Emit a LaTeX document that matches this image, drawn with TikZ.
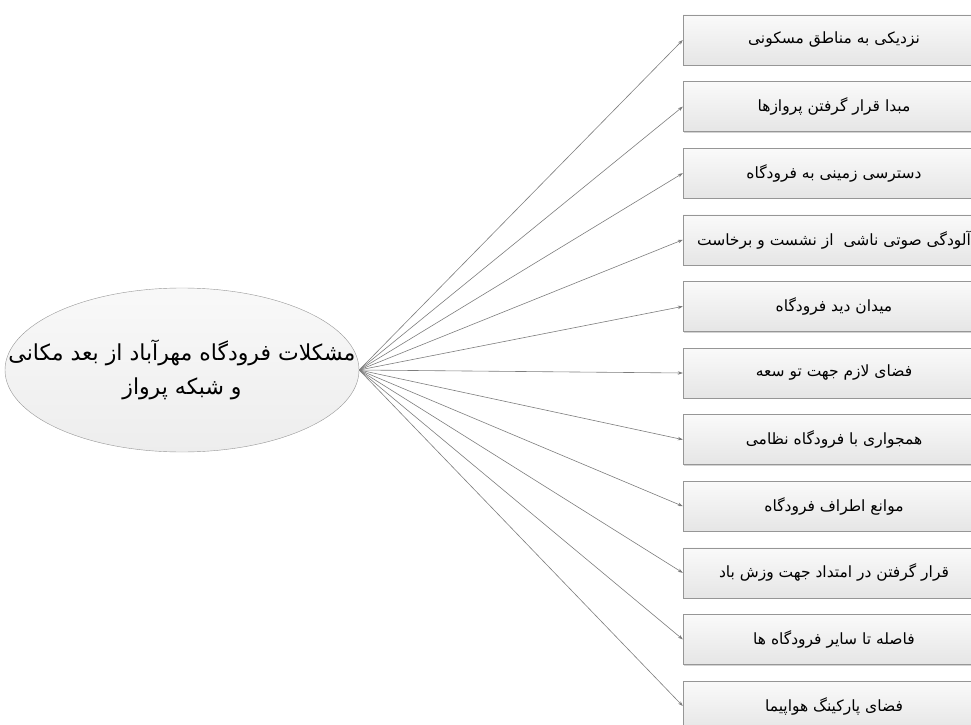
\documentclass[tikz,border=0pt]{standalone}
\usepackage{fontspec}
\newfontfamily\arabicfont[Script=Arabic]{DejaVu Sans}
\TeXXeTstate=1
\usetikzlibrary{shapes,arrows,arrows.meta,positioning,shadows}
\definecolor{edgegray}{RGB}{150,150,150}
\definecolor{linkgray}{RGB}{125,125,125}
\begin{document}
\begin{tikzpicture}[x=1pt,y=1pt,
  boxstyle/.style={rectangle,draw=edgegray,top color=gray!4,bottom color=gray!20,minimum width=302pt,minimum height=50pt,inner sep=0pt,font=\arabicfont\fontsize{15.5}{18}\selectfont,drop shadow={shadow xshift=1.2pt,shadow yshift=-1.2pt,opacity=0.35}},
  ovalstyle/.style={ellipse,draw=edgegray,top color=gray!5,bottom color=gray!14,minimum width=354pt,minimum height=164pt,inner xsep=-60pt,inner ysep=0pt,align=center,font=\arabicfont\fontsize{22}{34}\selectfont},
  linkstyle/.style={draw=linkgray,line width=0.6pt,-{Stealth[length=5pt,width=3.5pt]}}]
\useasboundingbox (0,0) rectangle (971,724);
% central problem
\node[ovalstyle] (main) at (182,354) {\beginR مشکلات فرودگاه مهرآباد از بعد مکانی\endR\\\beginR و شبکه پرواز\endR};
% list of problems
\node[boxstyle] (p1) at (834,684) {\beginR نزدیکی به مناطق مسکونی\endR};
\node[boxstyle,below=16.2pt of p1] (p2) {\beginR مبدا قرار گرفتن پروازها\endR};
\node[boxstyle,below=16.2pt of p2] (p3) {\beginR دسترسی زمینی به فرودگاه\endR};
\node[boxstyle,below=16.2pt of p3] (p4) {\beginR آلودگی صوتی ناشی\ \ از نشست و برخاست\endR};
\node[boxstyle,below=16.2pt of p4] (p5) {\beginR میدان دید فرودگاه\endR};
\node[boxstyle,below=16.2pt of p5] (p6) {\beginR فضای لازم جهت تو سعه\endR};
\node[boxstyle,below=16.2pt of p6] (p7) {\beginR همجواری با فرودگاه نظامی\endR};
\node[boxstyle,below=16.2pt of p7] (p8) {\beginR موانع اطراف فرودگاه\endR};
\node[boxstyle,below=16.2pt of p8] (p9) {\beginR قرار گرفتن در امتداد جهت وزش باد\endR};
\node[boxstyle,below=16.2pt of p9] (p10) {\beginR فاصله تا سایر فرودگاه ها\endR};
\node[boxstyle,below=16.2pt of p10] (p11) {\beginR فضای پارکینگ هواپیما\endR};
% links
\draw[linkstyle] (main.east) -- (p1.west);
\draw[linkstyle] (main.east) -- (p2.west);
\draw[linkstyle] (main.east) -- (p3.west);
\draw[linkstyle] (main.east) -- (p4.west);
\draw[linkstyle] (main.east) -- (p5.west);
\draw[linkstyle] (main.east) -- (p6.west);
\draw[linkstyle] (main.east) -- (p7.west);
\draw[linkstyle] (main.east) -- (p8.west);
\draw[linkstyle] (main.east) -- (p9.west);
\draw[linkstyle] (main.east) -- (p10.west);
\draw[linkstyle] (main.east) -- (p11.west);
\end{tikzpicture}
\end{document}
